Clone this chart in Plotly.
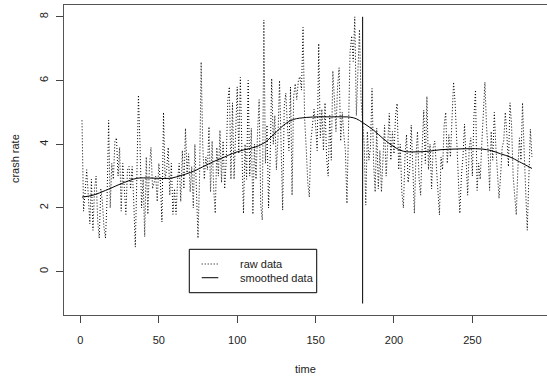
import plotly.graph_objects as go

raw_rate = [
    4.75, 1.9, 2.5, 3.2, 2.4, 1.5, 2.9, 1.3, 2.6, 3.0, 1.6, 1.05,
    2.6, 2.2, 1.4, 1.05, 2.3, 4.75, 2.0, 3.4, 2.9, 4.1, 4.2, 3.0,
    3.9, 1.9, 3.4, 2.6, 1.8, 3.2, 3.3, 2.6, 3.3, 2.2, 0.77, 3.0,
    5.54, 4.0, 2.0, 2.9, 1.1, 3.6, 1.8, 3.3, 3.9, 2.6, 2.8, 3.0,
    2.2, 3.4, 2.8, 1.56, 5.0, 2.9, 3.2, 3.9, 2.4, 3.4, 1.8, 2.6,
    1.8, 2.9, 3.4, 2.2, 3.8, 2.6, 4.5, 3.1, 3.7, 2.5, 3.3, 2.0,
    4.0, 2.4, 1.05, 3.0, 6.58, 4.0, 2.9, 3.6, 3.2, 4.55, 2.5, 4.1,
    2.6, 1.83, 3.9, 3.0, 4.44, 2.8, 4.1, 2.6, 3.5, 5.38, 5.8, 2.9,
    5.3, 2.9, 4.7, 5.8, 3.7, 6.1, 3.8, 1.83, 4.0, 2.9, 6.0, 3.0,
    4.5, 1.8, 4.0, 2.9, 4.4, 5.4, 2.1, 1.62, 7.9, 3.4, 4.6, 2.0,
    3.5, 6.06, 4.0, 4.9, 3.2, 4.2, 6.0, 4.3, 1.93, 5.2, 5.6, 4.6,
    3.8, 5.8, 2.4, 5.5, 5.9, 5.4, 6.0, 6.12, 5.7, 7.67, 4.8, 3.9,
    2.8, 2.34, 4.1, 4.6, 5.1, 4.6, 3.8, 7.16, 4.2, 5.1, 3.8, 5.3,
    3.6, 3.0, 4.9, 3.5, 6.3, 5.4, 4.4, 5.8, 6.4, 4.1, 5.0, 4.3,
    3.8, 2.14, 5.2, 6.9, 7.4, 6.6, 8.0, 4.9, 6.3, 7.6, 5.4, 4.8,
    4.0, 2.09, 4.4, 3.5, 3.9, 5.75, 3.4, 2.5, 4.5, 2.6, 3.8, 2.5,
    3.5, 4.6, 3.0, 4.2, 4.97, 3.5, 4.4, 3.7, 4.9, 5.28, 3.2, 4.0,
    2.5, 2.0, 3.6, 4.3, 2.8, 3.2, 4.6, 3.3, 1.83, 3.6, 4.4, 2.9,
    2.4, 3.9, 5.07, 3.4, 5.5, 3.2, 4.0, 2.6, 3.9, 4.1, 3.3, 2.8,
    1.78, 3.6, 3.2, 4.6, 5.0, 3.4, 4.3, 3.6, 4.8, 5.95, 5.3, 4.2,
    2.8, 1.83, 3.0, 3.6, 4.63, 3.2, 2.4, 3.9, 4.2, 3.0, 4.9, 5.7,
    2.55, 3.4, 2.9, 4.0, 5.2, 5.95, 4.6, 3.8, 2.55, 4.4, 3.5, 5.0,
    3.9, 3.1, 2.3, 3.0, 3.9, 4.1, 5.0, 4.3, 3.3, 5.3, 4.6, 3.0,
    2.5, 1.78, 3.2, 4.2, 3.5, 5.3, 3.8, 2.6, 1.3, 2.9, 4.47, 3.6,
]
raw_time = list(range(1, len(raw_rate) + 1))

smooth_time = [1, 8, 16, 24, 28, 36, 44, 50, 57, 65, 72, 76, 80, 87, 92, 97, 104,
               112, 118, 125, 131, 136, 144, 152, 160, 168, 172, 176, 180, 187,
               193, 200, 206, 214, 222, 230, 240, 248, 256, 262, 268, 274, 280, 288]
smooth_rate = [2.34, 2.4, 2.55, 2.72, 2.8, 2.93, 2.94, 2.93, 2.93, 3.03, 3.15, 3.24,
               3.34, 3.5, 3.6, 3.71, 3.82, 3.92, 4.07, 4.39, 4.65, 4.78, 4.84, 4.86,
               4.86, 4.86, 4.85, 4.8, 4.68, 4.44, 4.18, 3.92, 3.78, 3.76, 3.78, 3.83,
               3.85, 3.86, 3.85, 3.8, 3.7, 3.6, 3.45, 3.24]

vline_time = [180, 180]
vline_rate = [-1.0, 8.0]

x_ticks = [0, 50, 100, 150, 200, 250]
y_ticks = [0, 2, 4, 6, 8]

legend_labels = ["raw data", "smoothed data"]
legend_dashes = ["1px,2px", "solid"]

FONT = "Liberation Sans, Arial, Helvetica, sans-serif"
TXT = "#222222"

fig = go.Figure()
fig.add_trace(go.Scatter(x=raw_time, y=raw_rate, mode="lines", name=legend_labels[0],
                         showlegend=False,
                         line=dict(color="black", width=1, dash=legend_dashes[0])))
fig.add_trace(go.Scatter(x=smooth_time, y=smooth_rate, mode="lines", name=legend_labels[1],
                         showlegend=False,
                         line=dict(color="black", width=1, shape="spline")))
fig.add_trace(go.Scatter(x=vline_time, y=vline_rate, mode="lines", showlegend=False,
                         line=dict(color="black", width=1)))

# legend box drawn by hand (paper coordinates)
shapes = [dict(type="rect", xref="paper", yref="paper", x0=0.2594, x1=0.5232,
               y0=0.0719, y1=0.2119, line=dict(color="black", width=1),
               fillcolor="white", layer="above")]
annotations = []
row_y = [0.1645, 0.1203]
for lab, dash, yy in zip(legend_labels, legend_dashes, row_y):
    shapes.append(dict(type="line", xref="paper", yref="paper", x0=0.2851, x1=0.3195,
                       y0=yy, y1=yy, line=dict(color="black", width=1, dash=dash),
                       layer="above"))
    annotations.append(dict(text=lab, xref="paper", yref="paper", x=0.3609, y=yy,
                            xanchor="left", yanchor="middle", showarrow=False,
                            font=dict(family=FONT, size=11, color=TXT)))

annotations += [
    dict(text="time", xref="paper", yref="paper", x=0.5, y=-0.174,
         xanchor="center", yanchor="middle", showarrow=False,
         font=dict(family=FONT, size=11, color=TXT)),
    dict(text="crash rate", xref="paper", yref="paper", x=-0.1015, y=0.506,
         xanchor="center", yanchor="middle", showarrow=False, textangle=-90,
         font=dict(family=FONT, size=11, color=TXT)),
]

fig.update_layout(
    width=547, height=376,
    margin=dict(l=64, r=0, t=5, b=61, autoexpand=False),
    paper_bgcolor="white", plot_bgcolor="white",
    font=dict(family=FONT, size=11, color=TXT),
    showlegend=False,
    xaxis=dict(range=[-10.48, 297.6], tickvals=x_ticks, ticks="outside", ticklen=7,
               tickcolor="#444", showline=True, linecolor="#555", linewidth=1, mirror=True,
               showgrid=False, zeroline=False, ticklabelstandoff=8, automargin=False),
    yaxis=dict(range=[-1.36, 8.37], tickvals=y_ticks, ticks="outside", ticklen=7,
               tickcolor="#444", showline=True, linecolor="#555", linewidth=1, mirror=False,
               showgrid=False, zeroline=False, tickangle=-90, ticklabelstandoff=4,
               automargin=False),
    shapes=shapes,
    annotations=annotations,
)

fig.write_html("out.html", config={"displayModeBar": False},
               post_script="document.body.style.margin='0';document.body.style.overflow='hidden';")
